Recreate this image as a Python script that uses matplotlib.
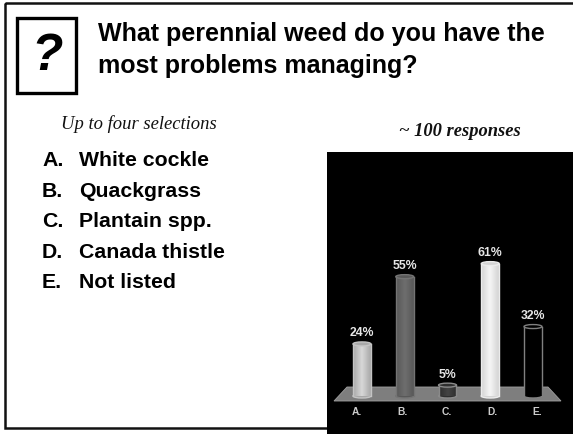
import numpy as np
import matplotlib
matplotlib.use("Agg")
import matplotlib.pyplot as plt
from matplotlib.patches import Rectangle, Polygon, Ellipse
from matplotlib.colors import LinearSegmentedColormap

W, H = 573, 435
categories = ["A.", "B.", "C.", "D.", "E."]
values = [24, 55, 5, 61, 32]
labels = ["24%", "55%", "5%", "61%", "32%"]
answers = ["White cockle", "Quackgrass", "Plantain spp.", "Canada thistle", "Not listed"]
title_lines = ["What perennial weed do you have the", "most problems managing?"]
bar_dark = ["#a8a8a8", "#585858", "#2e2e2e", "#d4d4d4", "#000000"]
bar_light = ["#d8d8d8", "#6e6e6e", "#444444", "#f6f6f6", "#000000"]
bar_outline = ["#c4c4c4", "#747474", "#8a8a8a", "#ececec", "#808080"]

plt.rcParams["font.family"] = ["Liberation Sans", "DejaVu Sans"]
fig = plt.figure(figsize=(W / 100, H / 100), dpi=100, facecolor="white")

# page overlay in pixel coordinates
page = fig.add_axes([0, 0, 1, 1])
page.set_xlim(0, W)
page.set_ylim(H, 0)
page.axis("off")
page.add_patch(Rectangle((5, 3.5), W + 10, 425, fill=False, ec="#111111", lw=1.8))
page.add_patch(Rectangle((17, 19), 61, 76, fc="#777777", ec="none"))
page.add_patch(Rectangle((16.5, 18.5), 59, 75, fc="white", ec="black", lw=2.4))
page.text(47, 57, "?", fontsize=37, fontweight="bold", style="italic", ha="center", va="center")
for i, line in enumerate(title_lines):
    page.text(98, 41.5 + i * 32, line, fontsize=18, fontweight="bold", ha="left", va="baseline", color="black")
page.text(61, 129, "Up to four selections", fontsize=13.4, style="italic",
          family="Liberation Serif", ha="left", va="baseline", color="#111111")
page.text(460, 136.5, "~ 100 responses", fontsize=13.3, style="italic", fontweight="bold",
          family="Liberation Serif", ha="center", va="baseline", color="#111111")
for i, (cat, ans) in enumerate(zip(categories, answers)):
    y = 166 + i * 30.6
    page.text(42, y, cat, fontsize=15.3, fontweight="bold", ha="left", va="baseline")
    page.text(79, y, ans, fontsize=15.3, fontweight="bold", ha="left", va="baseline")

# black chart panel
px0, px1, py0, py1 = 327, 573, 153, 435
ax = fig.add_axes([px0 / W, 1 - py1 / H, (px1 - px0) / W, (py1 - py0) / H])
ax.set_facecolor("black")
sx, sy = 42.75, 2.17        # pixels per category, pixels per percent
xc0, y0 = 362, 397          # pixel position of category A and of zero
ax.set_xticks([])
ax.set_yticks([])
for s in ax.spines.values():
    s.set_visible(False)

def tx(p): return (p - xc0) / sx
def ty(p): return (y0 - p) / sy

ax.add_patch(Polygon([(tx(334), ty(402)), (tx(347), ty(388)), (tx(548), ty(388)), (tx(561), ty(402))],
                     closed=True, fc="#7e7e7e", ec="#a0a0a0", lw=0.6, zorder=1))

width = 0.42
eh = 2.0 / sy * 2
for i, (v, lab, cat) in enumerate(zip(values, labels, categories)):
    rects = ax.bar(i, v, width=width, color=bar_dark[i], ec="none", zorder=2)
    cmap = LinearSegmentedColormap.from_list("b", [bar_dark[i], bar_light[i], bar_dark[i]])
    im = ax.imshow(np.linspace(0, 1, 64).reshape(1, -1), cmap=cmap, aspect="auto",
                   extent=(i - width / 2, i + width / 2, 0, v), zorder=3)
    im.set_clip_path(rects[0])
    ax.add_patch(Ellipse((i, 0), width, eh, fc=bar_dark[i], ec=bar_outline[i], lw=1.0, zorder=2))
    ax.plot([i - width / 2] * 2, [0, v], color=bar_outline[i], lw=1.0, zorder=4)
    ax.plot([i + width / 2] * 2, [0, v], color=bar_outline[i], lw=1.0, zorder=4)
    ax.add_patch(Ellipse((i, v), width, eh, fc=bar_dark[i], ec=bar_outline[i], lw=1.0, zorder=5))
    ax.text(i, v + 5.3, lab, color="#e6e6e6", fontsize=8.8, fontweight="bold", ha="center", va="center", zorder=6)
    ax.text(tx(357 + 45 * i), ty(412), cat, color="#cccccc", fontsize=7.4, fontweight="bold",
            ha="center", va="center", zorder=6)
ax.set_xlim((px0 - xc0) / sx, (px1 - xc0) / sx)
ax.set_ylim((y0 - py1) / sy, (y0 - py0) / sy)

fig.savefig("out.png", dpi=100, facecolor="white")
